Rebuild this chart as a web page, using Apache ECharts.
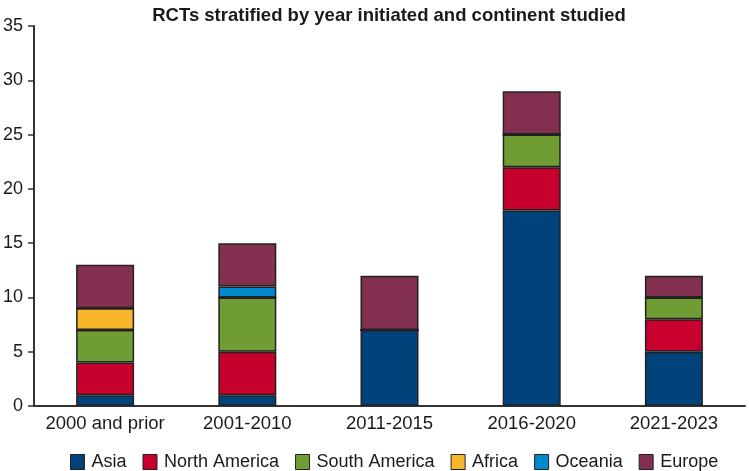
<!DOCTYPE html>
<html><head><meta charset="utf-8">
<script src="https://cdn.jsdelivr.net/npm/echarts@6/dist/echarts.min.js"></script>
<style>html,body{margin:0;padding:0;background:#fff}#c{width:749px;height:471px}</style>
</head><body><div id="c"></div>
<script>
const categories = ['2000 and prior','2001-2010','2011-2015','2016-2020','2021-2023'];
const asia = [1,1,7,18,5];
const northAmerica = [3,4,0,4,3];
const southAmerica = [3,5,0,3,2];
const africa = [2,0,0,0,0];
const oceania = [0,1,0,0,0];
const europe = [4,4,5,4,2];
const seriesNames = ['Asia','North America','South America','Africa','Oceania','Europe'];
const seriesData = [asia,northAmerica,southAmerica,africa,oceania,europe];
const colors = ['#00427a','#c8002e','#6f9c33','#f8b62a','#0089cc','#833050'];
const font = 'Liberation Sans, Arial, sans-serif';
const chart = echarts.init(document.getElementById('c'));
chart.setOption({
  animation:false,
  title:{text:'RCTs stratified by year initiated and continent studied',left:384,textAlign:'center',top:1,
    textStyle:{fontFamily:font,fontSize:18.5,fontWeight:'bold',color:'#1a1a1a'}},
  grid:{left:33,right:4,top:26,bottom:65,containLabel:false},
  legend:{bottom:-5,left:65,itemWidth:14,itemHeight:15,itemGap:16,icon:'rect',
    textStyle:{fontFamily:font,fontSize:18,color:'#1a1a1a',padding:[0,0,0,2]},
    data:seriesNames.map((n,i)=>({name:n,itemStyle:{borderColor:'#222',borderWidth:1}}))},
  xAxis:{type:'category',data:categories,
    axisLine:{lineStyle:{color:'#333',width:2}},axisTick:{show:false},
    axisLabel:{fontFamily:font,fontSize:18.5,color:'#1a1a1a',margin:8,interval:0}},
  yAxis:{type:'value',min:0,max:35,interval:5,splitLine:{show:false},
    axisLine:{show:true,lineStyle:{color:'#333',width:2}},
    axisTick:{show:true,length:6,lineStyle:{color:'#333',width:1.5}},
    axisLabel:{fontFamily:font,fontSize:18,color:'#1a1a1a',margin:11}},
  series:seriesNames.map((n,i)=>({name:n,type:'bar',stack:'t',barWidth:58,
    data:seriesData[i],itemStyle:{color:colors[i],borderColor:'#222',borderWidth:1.5}}))
});
</script></body></html>
